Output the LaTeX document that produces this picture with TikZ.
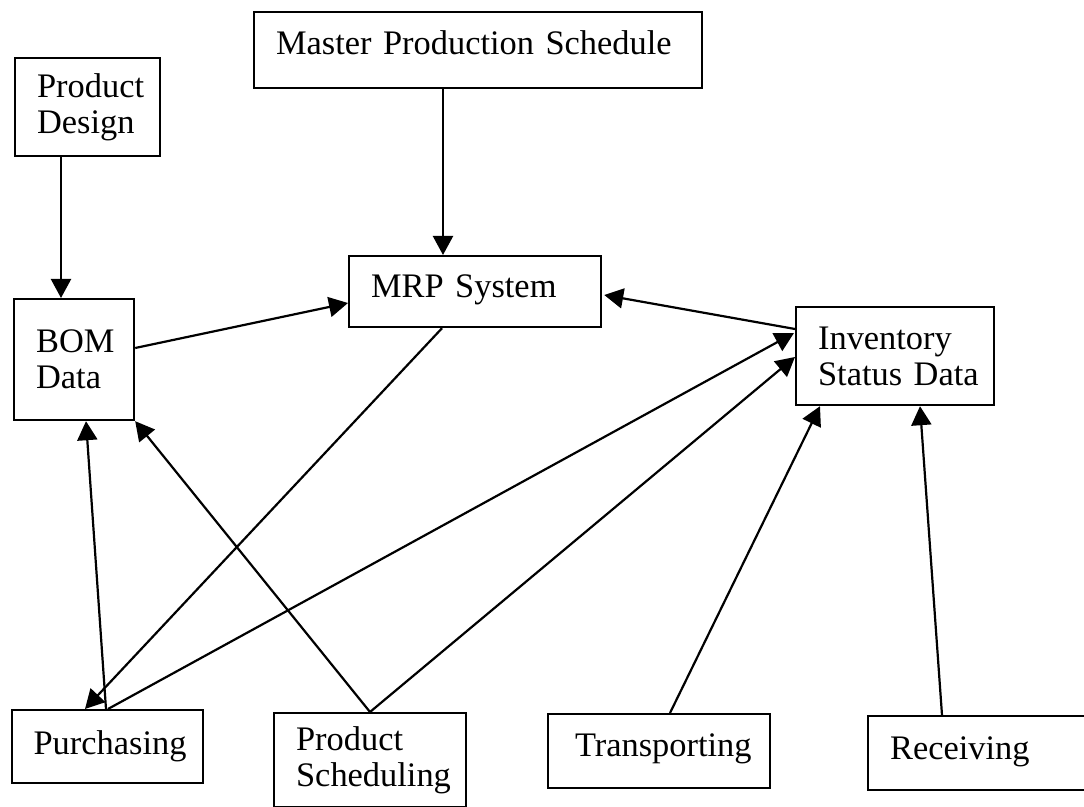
\documentclass[tikz,border=0pt]{standalone}
\usepackage{fontspec}
\setmainfont{Liberation Serif}
\usetikzlibrary{arrows.meta,calc}
\begin{document}
\begin{tikzpicture}[x=0.5pt,y=-0.5pt,
  box/.style={draw,line width=1.1pt,anchor=north west,inner sep=0pt,
    font=\fontsize{17.2}{18}\selectfont,align=left},
  link/.style={line width=1.1pt,-{Triangle[length=9.5pt,width=10pt]}}]
\useasboundingbox (0,0) rectangle (1084,807);
\fill[white] (0,0) rectangle (1084,807);
% boxes (pixel coordinates, y downwards)
\node[box,minimum width=72.5pt,minimum height=49pt,text width=50.5pt] (pd) at (14,57) {\mbox{Product}\\Design};
\node[box,minimum width=224pt,minimum height=38pt,text width=202pt,text height=11.5pt,text depth=7pt] (mps) at (253,11) {\mbox{Master Production Schedule}};
\node[box,minimum width=60pt,minimum height=60.5pt,text width=38pt] (bom) at (13,298) {\mbox{BOM}\\Data};
\node[box,minimum width=126pt,minimum height=35.5pt,text width=104pt,text height=11.5pt,text depth=6pt] (mrp) at (348,255) {\mbox{MRP System}};
\node[box,minimum width=99pt,minimum height=49pt,text width=77pt] (inv) at (795,306) {\mbox{Inventory}\\\mbox{Status Data}};
\node[box,minimum width=95.5pt,minimum height=36.5pt,text width=74pt] (pur) at (11,709) {\mbox{Purchasing}};
\node[box,minimum width=96pt,minimum height=47pt,text width=74pt] (ps) at (273,712) {\mbox{Product}\\\mbox{Scheduling}};
\node[box,minimum width=111pt,minimum height=37pt,text width=86pt,text height=11.5pt,text depth=6pt] (tra) at (547,713) {\hspace*{1pt}\mbox{Transporting}};
\node[box,minimum width=112.5pt,minimum height=37pt,text width=90.5pt,text height=11.5pt,text depth=5pt] (rec) at (867,715) {\mbox{Receiving}};
% connectors
\draw[link] ($(pd.south west)+(47,0)$) -- ($(bom.north west)+(48,0)$);
\draw[link] ($(mps.south west)+(190,0)$) -- ($(mrp.north west)+(95,0)$);
\draw[link] ($(bom.north east)+(0,50)$) -- ($(mrp.north west)+(0,48)$);
\draw[link] ($(inv.north west)+(0,23)$) -- ($(mrp.north east)+(2,40)$);
\draw[link] ($(mrp.south west)+(94,0)$) -- ($(pur.north west)+(74,0)$);
\draw[link] ($(pur.north west)+(95,0)$) -- ($(bom.south west)+(73,0)$);
\draw[link] ($(pur.north west)+(97,0)$) -- ($(inv.north west)+(-1,27)$);
\draw[link] ($(ps.north west)+(97,0)$) -- ($(inv.north west)+(0,51)$);
\draw[link] ($(ps.north west)+(97,0)$) -- (bom.south east);
\draw[link] ($(tra.north west)+(123,0)$) -- ($(inv.south west)+(25,0)$);
\draw[link] ($(rec.north west)+(75,0)$) -- ($(inv.south west)+(125,0)$);
\end{tikzpicture}
\end{document}
